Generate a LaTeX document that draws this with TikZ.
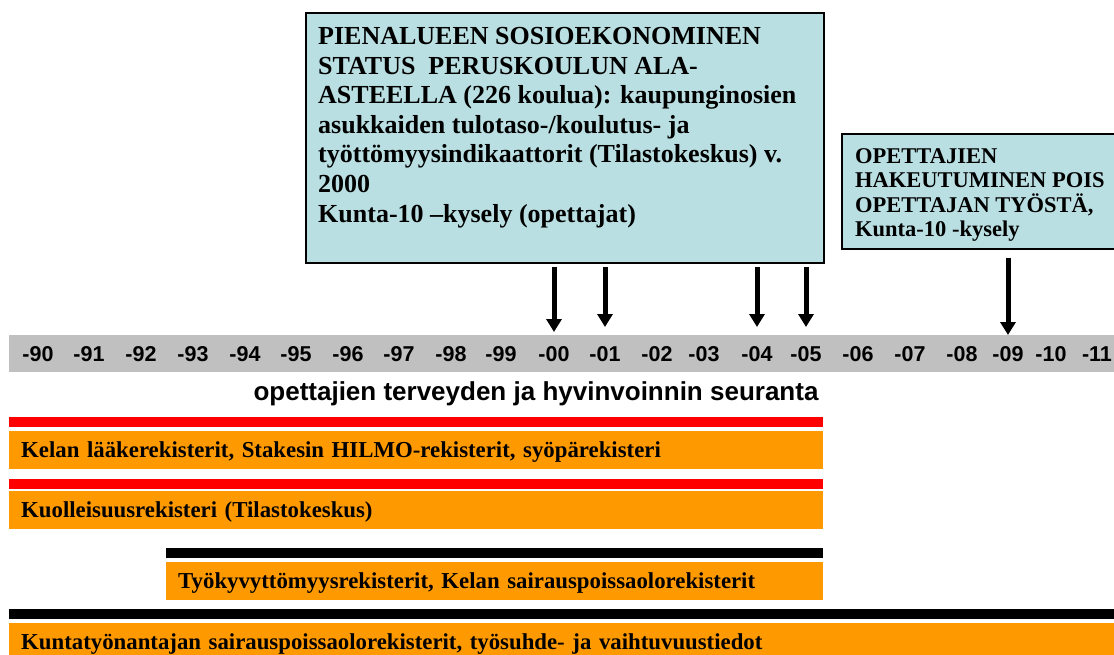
\documentclass[tikz,border=0pt]{standalone}
\usepackage{fontspec}
\setmainfont{Liberation Serif}
\setsansfont{Liberation Sans}
\usetikzlibrary{arrows.meta,positioning}
\definecolor{boxblue}{RGB}{185,223,226}
\definecolor{bandgray}{RGB}{192,192,192}
\definecolor{regorange}{RGB}{255,153,0}
\tikzset{
  year/.style={font=\sffamily\bfseries\fontsize{21.5}{21.5}\selectfont},
  infobox/.style={draw, line width=2pt, fill=boxblue, anchor=north west, inner sep=0pt},
  boxtext/.style={anchor=north west, inner sep=0pt, align=left},
  reg/.style={fill=regorange, anchor=north west, minimum height=38pt, inner xsep=12pt,
    inner ysep=0pt, align=left, text height=15pt, text depth=0pt,
    font=\bfseries\fontsize{22.8}{24}\selectfont},
  redbar/.style={fill=red, anchor=north west, minimum height=10pt, inner sep=0pt},
  blackbar/.style={fill=black, anchor=north west, minimum height=10pt, inner sep=0pt},
  arr/.style={-{Triangle[width=15pt,length=13pt]}, line width=5pt}
}
\begin{document}
\begin{tikzpicture}[x=1pt, y=-1pt]
    \useasboundingbox (0,0) rectangle (1114,655);

    \node[infobox, minimum width=518pt, minimum height=250pt] (socio) at (305,12) {};
    \node[boxtext, font=\bfseries\fontsize{26}{29.6}\selectfont] (sociotext)
      at ([xshift=13pt,yshift=-15pt]socio.north west)
      {PIENALUEEN SOSIOEKONOMINEN\\
       STATUS\ \ PERUSKOULUN ALA-\\
       ASTEELLA (226 koulua): kaupunginosien\\
       asukkaiden tulotaso-/koulutus- ja\\
       työttömyysindikaattorit (Tilastokeskus) v.\\
       2000\\
       Kunta-10 –kysely (opettajat)};

    \node[infobox, minimum width=290pt, minimum height=115pt] (leave) at (841,133) {};
    \node[boxtext, font=\bfseries\fontsize{22.5}{24.5}\selectfont] (leavetext)
      at ([xshift=14pt,yshift=-15pt]leave.north west)
      {OPETTAJIEN\\
       HAKEUTUMINEN POIS\\
       OPETTAJAN TYÖSTÄ,\\
       Kunta-10 -kysely};

    \node[fill=bandgray, anchor=north west, minimum width=1110pt, minimum height=37pt,
      inner sep=0pt] (band) at (9,335) {};
    \foreach \yr/\px in {90/38, 91/89, 92/141, 93/193, 94/245, 95/296, 96/348, 97/399,
        98/451, 99/501, 00/554, 01/605, 02/657, 03/704, 04/757, 05/806, 06/858,
        07/910, 08/962, 09/1008, 10/1051, 11/1097} {
      \node[year] (y\yr) at (\px,354) {-\yr};
    }

    \draw[arr] ([yshift=-3pt]socio.south -| y00) -- ++(0,65);
    \foreach \yr in {01, 04, 05} {
      \draw[arr] ([yshift=-3pt]socio.south -| y\yr) -- ++(0,60);
    }
    \draw[arr] ([yshift=-8pt]leave.south -| y09) -- ++(0,77);

    \node[font=\sffamily\bfseries\fontsize{26}{26}\selectfont] (monitor) at (536,394)
      {opettajien terveyden ja hyvinvoinnin seuranta};

    \node[redbar, minimum width=814pt] (kelaline) at (9,417) {};
    \node[reg, text width=790pt] (kela) at (9,431)
      {Kelan lääkerekisterit, Stakesin HILMO-rekisterit, syöpärekisteri};
    \node[redbar, minimum width=814pt] (deathline) at (9,479) {};
    \node[reg, text width=790pt] (death) at (9,491)
      {Kuolleisuusrekisteri (Tilastokeskus)};
    \node[blackbar, minimum width=657pt] (sickline) at (166,548) {};
    \node[reg, text width=633pt] (sick) at (166,562)
      {Työkyvyttömyysrekisterit, Kelan sairauspoissaolorekisterit};
    \node[blackbar, minimum width=1110pt] (employline) at (9,609) {};
    \node[reg, text width=1086pt] (employ) at (9,623)
      {Kuntatyönantajan sairauspoissaolorekisterit, työsuhde- ja vaihtuvuustiedot};
  \end{tikzpicture}
\end{document}
